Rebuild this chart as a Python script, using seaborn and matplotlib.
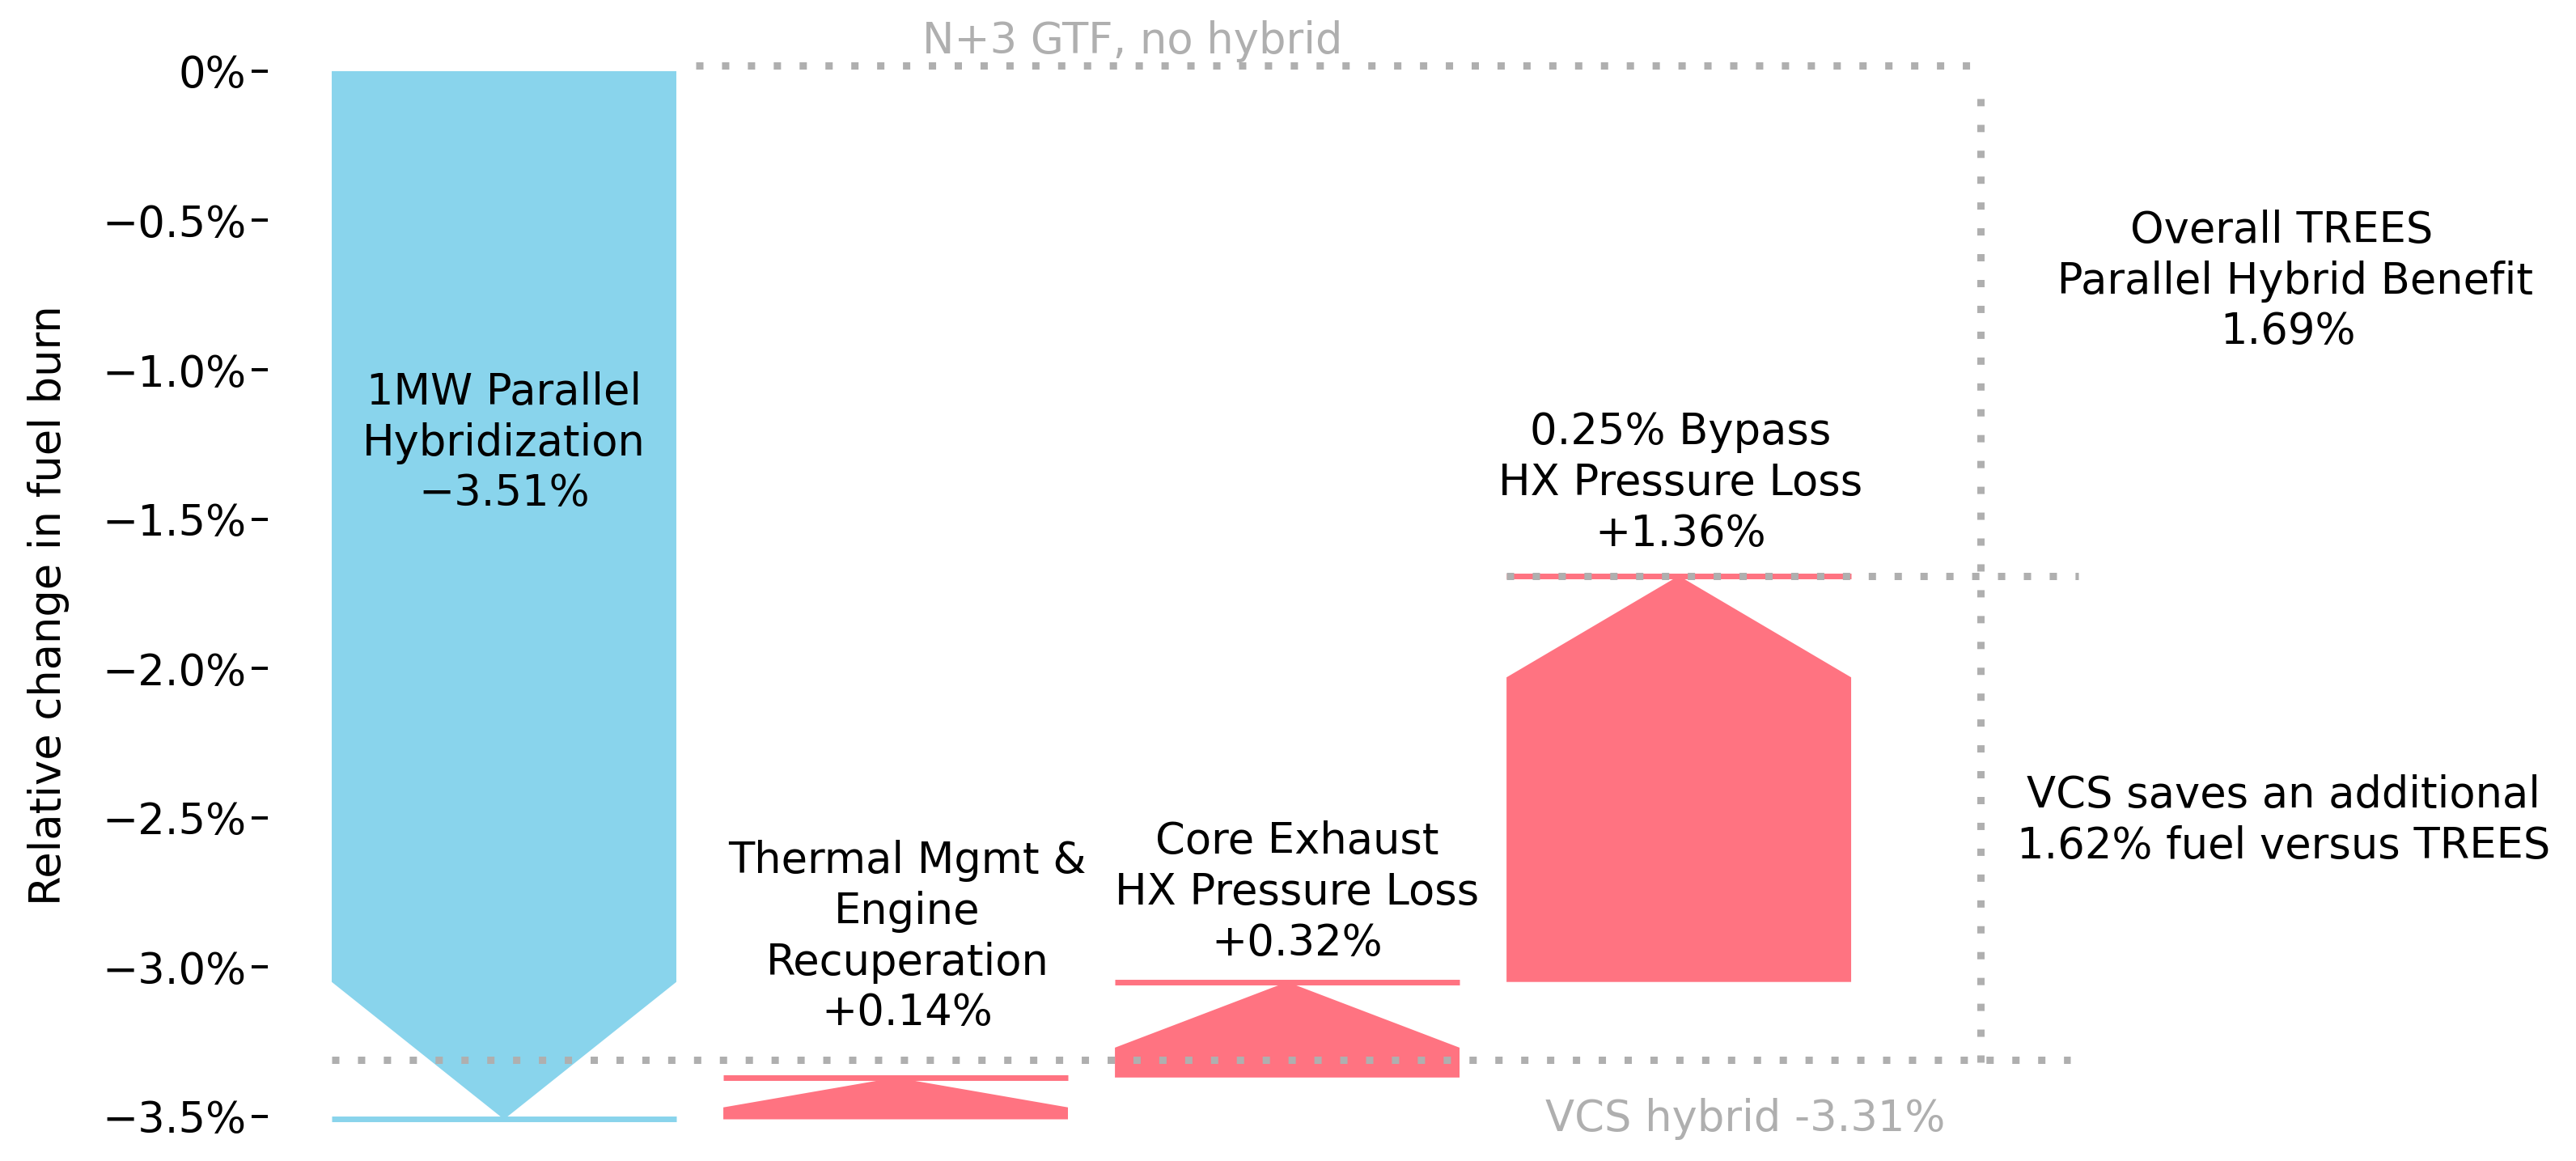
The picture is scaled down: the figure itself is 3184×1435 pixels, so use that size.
import numpy as np
import matplotlib
matplotlib.use("Agg")
import matplotlib.pyplot as plt
import seaborn as sns

# --- data ---
step_names = ["1MW Parallel\nHybridization",
              "Thermal Mgmt &\nEngine\nRecuperation",
              "Core Exhaust\nHX Pressure Loss",
              "0.25% Bypass\nHX Pressure Loss"]
step_deltas = [-3.51, 0.14, 0.32, 1.36]
step_delta_labels = ["\u22123.51%", "+0.14%", "+0.32%", "+1.36%"]
baseline_value = 0.0
baseline_name = "N+3 GTF, no hybrid"
vcs_value = -3.31
vcs_name = "VCS hybrid -3.31%"
ytick_values = [0.0, -0.5, -1.0, -1.5, -2.0, -2.5, -3.0, -3.5]
ytick_labels = ["0%", "\u22120.5%", "\u22121.0%", "\u22121.5%",
                "\u22122.0%", "\u22122.5%", "\u22123.0%", "\u22123.5%"]

# --- styling ---
BLUE = "#89D4EC"
RED = "#FF7381"
GREY = "#AFAFAF"
BAR_W = 0.88
FS = 19
LSP = 1.26
head_lengths = [0.46, 0.10, 0.22, 0.34]
label_x_shift = [0.0, 0.03, 0.025, 0.005]
label_y = [-1.246, -2.90, -2.75, -1.379]
dots = (0, (1.0, 2.55))

sns.set_theme(style="ticks")
plt.rcParams["font.family"] = ["DejaVu Sans"]
plt.rcParams["text.color"] = "black"
plt.rcParams["axes.labelcolor"] = "black"

fig = plt.figure(figsize=(15.92, 7.175), dpi=200)
ax = fig.add_axes([0.104, 0.0076, 0.896, 0.962])

ends = np.cumsum(step_deltas)
starts = ends - np.array(step_deltas)

# waterfall steps drawn as arrows
for i, (s, d, e) in enumerate(zip(starts, step_deltas, ends)):
    col = BLUE if d < 0 else RED
    ax.arrow(i, s, 0, d, width=BAR_W, head_width=BAR_W,
             head_length=head_lengths[i], length_includes_head=True,
             color=col, lw=0, zorder=2)
    ax.hlines(e, i - BAR_W / 2, i + BAR_W / 2, color=col, lw=2.5, zorder=3)
    ax.text(i + label_x_shift[i], label_y[i],
            step_names[i] + "\n" + step_delta_labels[i],
            ha="center", va="center", fontsize=FS, color="black",
            multialignment="center", linespacing=LSP, zorder=5)

total = ends[-1]
n = len(step_deltas)

# reference lines
ax.hlines(baseline_value + 0.02, 0.49, 3.745, color=GREY, lw=3.24,
          linestyles=[dots], zorder=4)
ax.vlines(3.77, vcs_value - 0.01, baseline_value - 0.03, color=GREY, lw=3.24,
          linestyles=[dots], zorder=4)
ax.hlines(total, (n - 1) - BAR_W / 2, 4.02, color=GREY, lw=3.24,
          linestyles=[dots], zorder=4)
ax.hlines(vcs_value, -BAR_W / 2, 4.0, color=GREY, lw=3.24,
          linestyles=[dots], zorder=4)

ax.text(1.605, 0.10, baseline_name, ha="center", va="center",
        fontsize=FS, color=GREY)
ax.text(3.17, -3.51, vcs_name, ha="center", va="center",
        fontsize=FS, color=GREY)

ax.text(4.556, -0.704,
        "Overall TREES \n Parallel Hybrid Benefit\n%.2f%%" % (baseline_value - total),
        ha="center", va="center", fontsize=FS, color="black",
        multialignment="center", linespacing=LSP)
ax.text(4.545, -2.51,
        "VCS saves an additional\n%.2f%% fuel versus TREES" % (total - vcs_value),
        ha="center", va="center", fontsize=FS, color="black",
        multialignment="center", linespacing=LSP)

ax.set_xlim(-0.603, 5.291)
ax.set_ylim(-3.62, 0.12)
ax.set_yticks(ytick_values)
ax.set_yticklabels(ytick_labels)
ax.set_xticks([])
ax.tick_params(axis="y", labelsize=FS, length=7.2, width=1.44, pad=2.5,
               color="black", labelcolor="black")
ax.set_ylabel("Relative change in fuel burn", fontsize=FS, color="black")
ax.yaxis.set_label_coords(-0.086, 0.49)
sns.despine(ax=ax, left=True, bottom=True)
ax.set_facecolor("white")
fig.patch.set_facecolor("white")

fig.savefig("out.png", dpi=200)
